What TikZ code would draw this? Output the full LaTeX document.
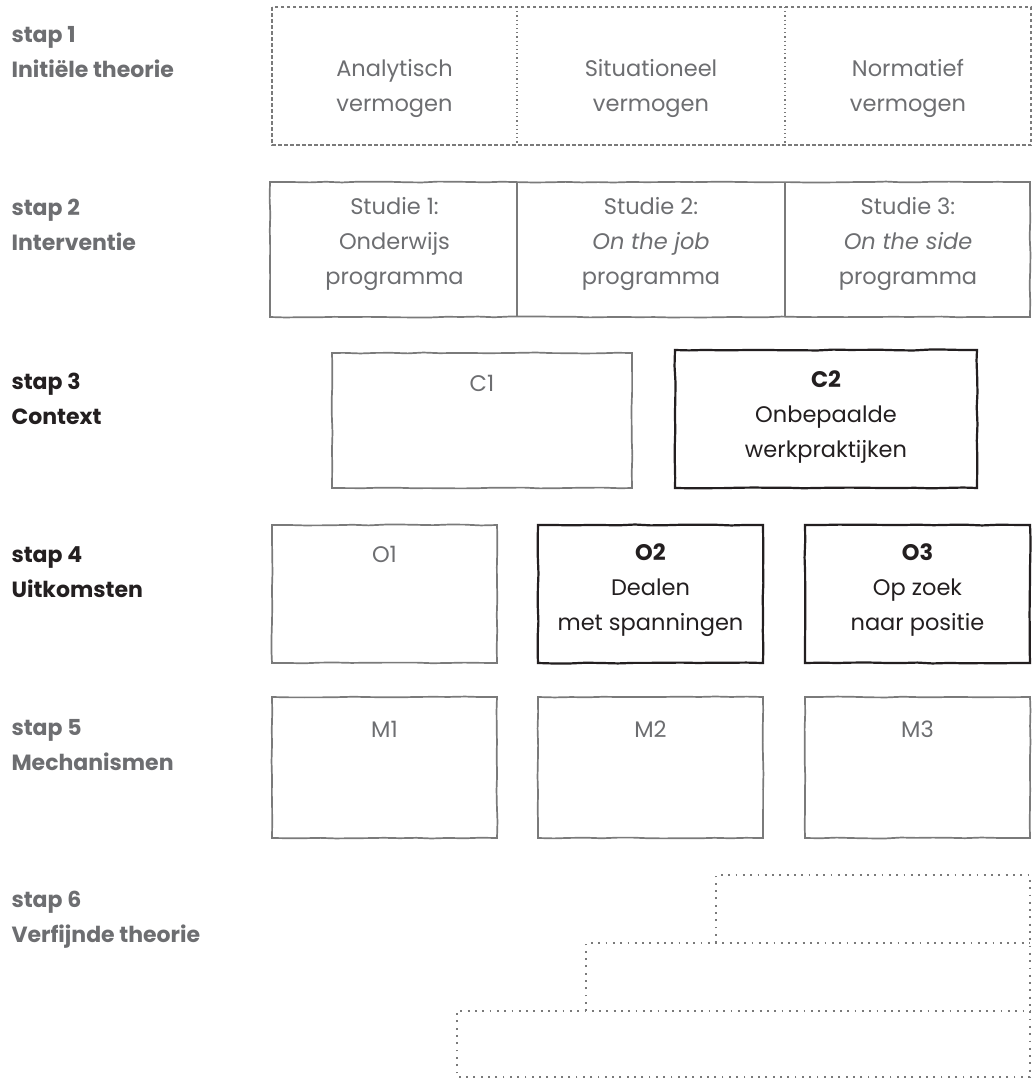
\documentclass[tikz,border=0pt]{standalone}
\usepackage{fontspec}
\setmainfont{Poppins}
\usetikzlibrary{decorations.pathmorphing}
\definecolor{txtgray}{HTML}{6D6E71}
\definecolor{linegray}{HTML}{7A7A7A}
\definecolor{txtdark}{HTML}{231F20}

\begin{document}
\begin{tikzpicture}[x=1pt, y=-1pt,
  sketchy/.style={decorate, decoration={random steps, segment length=16pt, amplitude=0.5pt}},
  graybox/.style={draw=linegray, line width=1.7pt, sketchy},
  darkbox/.style={draw=txtdark, line width=2.2pt, sketchy},
  dashbox/.style={draw=linegray, line width=1.6pt, dash pattern=on 3.5pt off 2.5pt},
  dotdiv/.style={draw=linegray, line width=1.4pt, dash pattern=on 1.2pt off 3pt},
  dotstair/.style={draw=linegray, line width=2pt, dash pattern=on 1.8pt off 5.5pt},
  steplabel/.style={anchor=west, align=left, text=txtgray, font=\bfseries\fontsize{22}{35}\selectfont},
  boxtext/.style={align=center, text=txtgray, font=\fontsize{22.5}{35}\selectfont},
  boxdark/.style={boxtext, text=txtdark},
]
\fill[white] (0,0) rectangle (1034,1079);
\useasboundingbox (0,0) rectangle (1034,1079);

% step labels
\node[steplabel] (stap1) at (8, 52.5) {stap 1\\Initiële theorie};
\node[steplabel] (stap2) at (8, 225) {stap 2\\Interventie};
\node[steplabel, text=txtdark] (stap3) at (8, 398.5) {stap 3\\Context};
\node[steplabel, text=txtdark] (stap4) at (8, 572.5) {stap 4\\Uitkomsten};
\node[steplabel] (stap5) at (8, 745) {stap 5\\Mechanismen};
\node[steplabel] (stap6) at (8, 919.5) {stap 6\\Verfijnde theorie};

% stap 1
\draw[dashbox] (272,7) rectangle (1031,145);
\draw[dotdiv] (517,7) -- (517,145);
\draw[dotdiv] (785,7) -- (785,145);
\node[boxtext] (analytisch) at (394.5, 88.5) {Analytisch\\vermogen};
\node[boxtext] (situationeel) at (651, 88.5) {Situationeel\\vermogen};
\node[boxtext] (normatief) at (908, 88.5) {Normatief\\vermogen};

% stap 2
\draw[graybox] (270,182) rectangle (1030,317);
\draw[draw=linegray, line width=1.1pt] (517,182) -- (517,317);
\draw[draw=linegray, line width=1.1pt] (785,182) -- (785,317);
\node[boxtext] (studie1) at (394.5, 243.5) {Studie 1:\\Onderwijs\\programma};
\node[boxtext] (studie2) at (651, 243.5) {Studie 2:\\\textit{On the job}\\programma};
\node[boxtext] (studie3) at (908, 243.5) {Studie 3:\\\textit{On the side}\\programma};

% stap 3
\draw[graybox] (332,353) rectangle (632,488);
\node[boxtext] (c1) at (482, 383) {C1};
\draw[darkbox] (675,350) rectangle (977,488);
\node[boxdark] (c2) at (826, 417) {\textbf{C2}\\Onbepaalde\\werkpraktijken};

% stap 4
\draw[graybox] (272,525) rectangle (497,663);
\node[boxtext] (o1) at (384.5, 554) {O1};
\draw[darkbox] (538,525) rectangle (763,663);
\node[boxdark] (o2) at (650.5, 590) {\textbf{O2}\\Dealen\\met spanningen};
\draw[darkbox] (805,525) rectangle (1030,663);
\node[boxdark] (o3) at (917.5, 590) {\textbf{O3}\\Op zoek\\naar positie};

% stap 5
\draw[graybox] (272,697) rectangle (497,838);
\node[boxtext] (m1) at (384.5, 729) {M1};
\draw[graybox] (538,697) rectangle (763,838);
\node[boxtext] (m2) at (650.5, 729) {M2};
\draw[graybox] (805,697) rectangle (1030,838);
\node[boxtext] (m3) at (917.5, 729) {M3};

% stap 6
\draw[dotstair] (716,943) -- (716,875) -- (1030,875) -- (1030,1077) -- (457,1077) -- (457,1011) -- (1030,1011);
\draw[dotstair] (586,1011) -- (586,943) -- (1030,943);

\end{tikzpicture}
\end{document}
